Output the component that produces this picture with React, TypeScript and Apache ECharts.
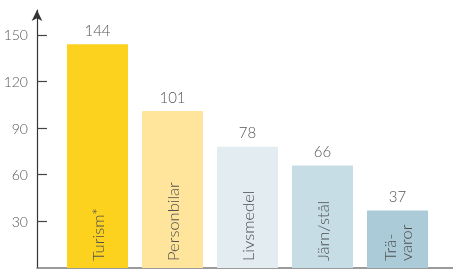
import React, { useEffect, useRef } from "react";
import * as echarts from "echarts";

const categories = ["Turism*", "Personbilar", "Livsmedel", "Järn/stål", "Trä-\nvaror"];
const values = [144, 101, 78, 66, 37];
const barColors = ["#FDD21E", "#FEE59B", "#E3EDF1", "#C6DDE5", "#AACBD7"];
const yTicks = [30, 60, 90, 120, 150];

const FONT = "Lato, 'DejaVu Sans', sans-serif";
const Y_MAX = 166;

export default function App() {
  const ref = useRef<HTMLDivElement>(null);
  useEffect(() => {
    const chart = echarts.init(ref.current!, null, { renderer: "svg" });
    chart.setOption({
      animation: false,
      grid: [
        { left: 60, right: 18, top: 10, bottom: 1 },
        { left: 37, right: 0, top: 10, bottom: 1 },
      ],
      xAxis: [
        {
          type: "category",
          gridIndex: 0,
          z: 10,
          data: categories,
          axisLine: { show: false },
          axisTick: { show: false },
          axisLabel: {
            inside: true,
            rotate: 90,
            margin: 7,
            fontFamily: FONT,
            fontSize: 16.5,
            fontWeight: 300,
            color: "#505050",
            lineHeight: 16,
          },
        },
        {
          type: "value",
          gridIndex: 1,
          min: 0,
          max: 1,
          axisLine: { show: true, lineStyle: { color: "#7a7a7a", width: 1.5 } },
          axisTick: { show: false },
          axisLabel: { show: false },
          splitLine: { show: false },
        },
      ],
      yAxis: [
        {
          type: "value",
          gridIndex: 0,
          min: 0,
          max: Y_MAX,
          show: false,
          splitLine: { show: false },
        },
        {
          type: "value",
          gridIndex: 1,
          min: 0,
          max: Y_MAX,
          axisLine: {
            show: true,
            symbol: ["none", "arrow"],
            symbolSize: [8, 11],
            lineStyle: { color: "#333", width: 1.2 },
          },
          axisTick: {
            show: true,
            inside: true,
            length: 10,
            customValues: yTicks,
            lineStyle: { color: "#444", width: 1.2 },
          },
          axisLabel: {
            customValues: yTicks,
            margin: 9,
            fontFamily: FONT,
            fontSize: 14,
            fontWeight: 300,
            color: "#555",
          },
          splitLine: { show: false },
        },
      ],
      series: [
        {
          type: "bar",
          xAxisIndex: 0,
          yAxisIndex: 0,
          barWidth: 61,
          data: values.map((v, i) => ({ value: v, itemStyle: { color: barColors[i] } })),
          label: {
            show: true,
            position: "top",
            distance: 7,
            fontFamily: FONT,
            fontSize: 15,
            fontWeight: 300,
            color: "#555",
          },
        },
      ],
    });
    return () => chart.dispose();
  }, []);
  return (
    <div
      ref={ref}
      style={{ position: "fixed", left: 0, top: 0, width: 453, height: 269 }}
    />
  );
}
